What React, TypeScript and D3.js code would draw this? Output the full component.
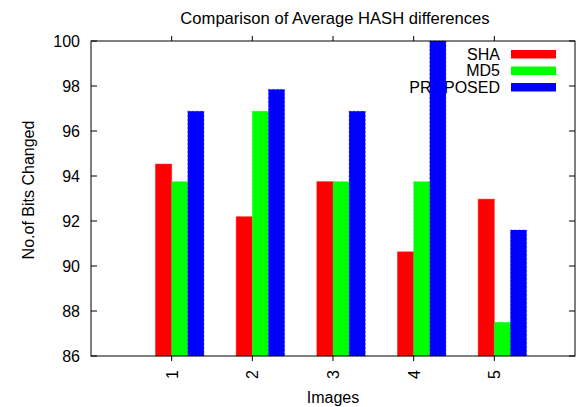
import React from "react";
import * as d3 from "d3";

const categories = ["1", "2", "3", "4", "5"];
const seriesNames = ["SHA", "MD5", "PROPOSED"];
const shaValues = [94.53, 92.19, 93.75, 90.63, 92.97];
const md5Values = [93.75, 96.88, 93.75, 93.75, 87.5];
const proposedValues = [96.88, 97.85, 96.88, 100, 91.6];
const yTicks = [86, 88, 90, 92, 94, 96, 98, 100];
const colors = ["#ff0000", "#00ff00", "#0000ff"];

const W = 578;
const H = 407;
const left = 91;
const right = 575;
const top = 41;
const bottom = 356;
const FONT = "'Liberation Sans', Arial, sans-serif";

export default function App() {
  const x = d3.scaleLinear().domain([0, 6]).range([left, right]);
  const y = d3.scaleLinear().domain([86, 100]).range([bottom, top]);
  const series = [shaValues, md5Values, proposedValues];
  const barW = 0.2;
  const offsets = [-0.2, 0, 0.2];

  return (
    <svg width={W} height={H} style={{ position: "absolute", left: 0, top: 0 }} fontFamily={FONT}>
      <rect x={0} y={0} width={W} height={H} fill="#fff" />
      {/* title */}
      <text x={335} y={24} fontSize={16.6} textAnchor="middle" fill="#000">
        Comparison of Average HASH differences
      </text>
      {/* legend (drawn before bars) */}
      {seriesNames.map((name, i) => {
        const by = 59.5 + i * 16.5;
        return (
          <g key={name}>
            <text x={500} y={by} fontSize={16} textAnchor="end" fill="#000">
              {name}
            </text>
            <rect x={511} y={by - 9.5} width={45} height={8.5} fill={colors[i]} />
          </g>
        );
      })}
      {/* bars */}
      {series.map((vals, s) =>
        vals.map((v, i) => {
          const c = i + 1 + offsets[s];
          const x0 = x(c);
          const x1 = x(c + barW);
          return (
            <rect
              key={`${s}-${i}`}
              x={x0}
              y={y(v)}
              width={x1 - x0}
              height={y(86) - y(v)}
              fill={colors[s]}
              stroke={colors[s]}
              strokeOpacity={0.45}
              strokeWidth={1}
              strokeDasharray={s === 0 ? undefined : "2,2"}
            />
          );
        })
      )}
      {/* y ticks */}
      {yTicks.map((t) => (
        <g key={t}>
          <line x1={left} x2={left + 6} y1={y(t)} y2={y(t)} stroke="#000" />
          <line x1={right} x2={right - 6} y1={y(t)} y2={y(t)} stroke="#000" />
          <text x={80} y={y(t) + 6} fontSize={16} textAnchor="end" fill="#000">
            {t}
          </text>
        </g>
      ))}
      {/* x ticks */}
      {categories.map((c, i) => {
        const tx = x(i + 1);
        return (
          <g key={c}>
            <line x1={tx} x2={tx} y1={bottom} y2={bottom + 5} stroke="#000" />
            <line x1={tx} x2={tx} y1={top} y2={top - 5} stroke="#000" />
            <text
              transform={`translate(${tx + 6},370) rotate(-90)`}
              fontSize={16}
              textAnchor="end"
              fill="#000"
            >
              {c}
            </text>
          </g>
        );
      })}
      {/* border */}
      <rect x={left} y={top} width={right - left} height={bottom - top} fill="none" stroke="#000" strokeWidth={1} />
      {/* axis labels */}
      <text x={333} y={403} fontSize={16} textAnchor="middle" fill="#000">
        Images
      </text>
      <text
        transform={`translate(34,190) rotate(-90)`}
        fontSize={16}
        textAnchor="middle"
        fill="#000"
      >
        No.of Bits Changed
      </text>
    </svg>
  );
}
